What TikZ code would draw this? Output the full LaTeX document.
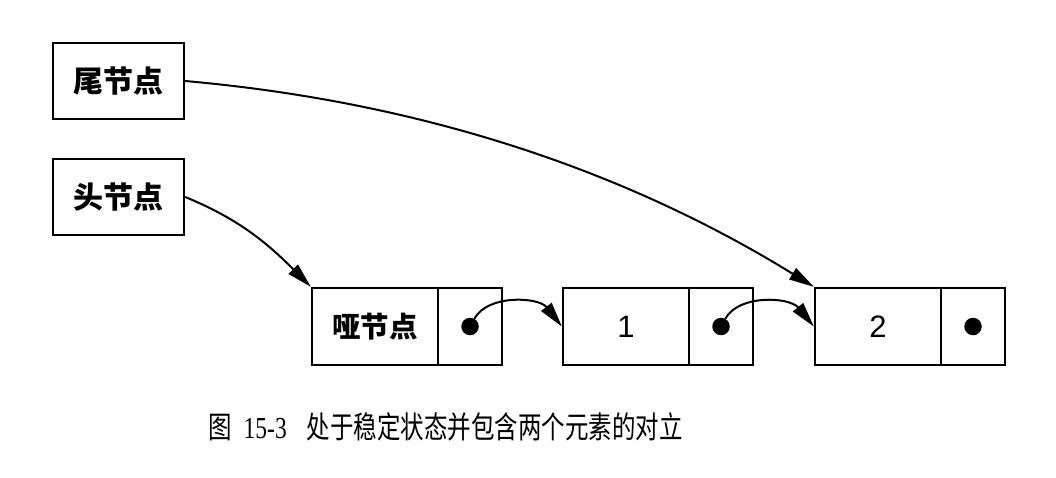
\documentclass[tikz,border=0pt]{standalone}
\usepackage{fontspec}
\setmainfont{Liberation Serif}
\newfontfamily\cjk{Noto Sans CJK SC}
\newfontfamily\digf{Liberation Sans}
\usetikzlibrary{arrows.meta}
\begin{document}
\begin{tikzpicture}[x=1pt,y=-1pt,
  box/.style={draw, line width=2.3pt, inner sep=0pt, minimum height=77pt},
  lbl/.style={box, minimum width=131pt, minimum height=76pt,
    font=\cjk\bfseries\fontsize{30}{32}\selectfont},
  datbox/.style={box, minimum width=126pt},
  cjklbl/.style={font=\cjk\bfseries\fontsize{28.5}{30}\selectfont},
  diglbl/.style={font=\digf\fontsize{31}{32}\selectfont},
  ptrbox/.style={box, minimum width=64pt},
  dot/.style={circle, fill=black, inner sep=0pt, minimum size=17.5pt},
  arr/.style={line width=2pt, -{Triangle[length=25pt,width=13pt]}},
  captext/.style={anchor=base west, inner sep=0pt,
    font=\cjk\fontsize{23.5}{28}\selectfont}
]
\useasboundingbox[fill=white] (0,0) rectangle (1056,478);

% left pointer boxes
\node[lbl] (tail) at (118.5,81) {尾节点};
\node[lbl] (head) at (118.5,197) {头节点};

% dummy node
\node[datbox, cjklbl] (d) at (375,326.5) {哑节点};
\node[ptrbox] (dp) at (470,326.5) {};
\node[dot] (dd) at (dp.center) {};

% node 1
\node[datbox, diglbl] (n1) at (626,326.5) {1};
\node[ptrbox] (n1p) at (721,326.5) {};
\node[dot] (n1d) at (n1p.center) {};

% node 2
\node[datbox, diglbl] (n2) at (878,326.5) {2};
\node[ptrbox] (n2p) at (973,326.5) {};
\node[dot] (n2d) at (n2p.center) {};

% connectors
\draw[arr] (tail.east) .. controls (444,104) and (644,182) .. (n2.north west);
\draw[arr] (head.east) .. controls (240.6,219.5) and (269.6,245.6) .. (d.north west);
\draw[arr] (dd) .. controls (488,294) and (538.6,297) .. (n1.west);
\draw[arr] (n1d) .. controls (739,294) and (789.6,297) .. (n2.west);

% caption
\node[captext] (caption) at (208,438) {\scalebox{1}[1.3]{图\hspace{12pt}{\rmfamily 15-3}\hspace{20pt}处于稳定状态并包含两个元素的对立}};
\end{tikzpicture}
\end{document}
